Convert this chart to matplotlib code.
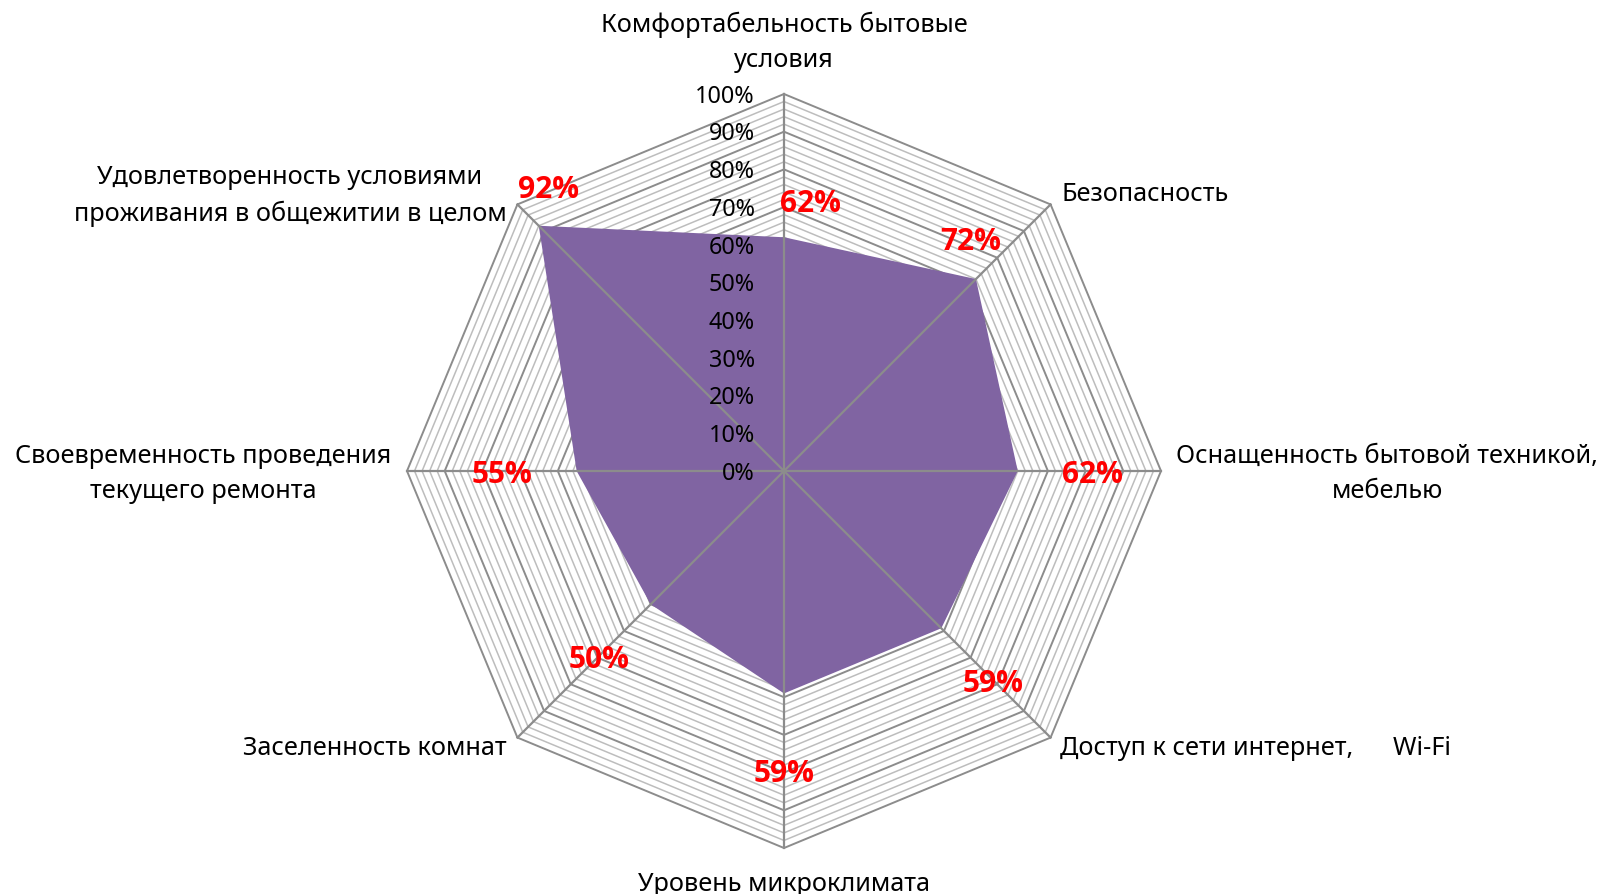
import numpy as np
import matplotlib
matplotlib.use("Agg")
import matplotlib.pyplot as plt

plt.rcParams['font.family'] = ['Noto Sans', 'DejaVu Sans']

# categories clockwise from the top
categories = ["Комфортабельность бытовые\nусловия",
              "Безопасность",
              "Оснащенность бытовой техникой,\nмебелью",
              "Доступ к сети интернет,      Wi-Fi",
              "Уровень микроклимата",
              "Заселенность комнат",
              "Своевременность проведения\nтекущего ремонта",
              "Удовлетворенность условиями\nпроживания в общежитии в целом"]
values = [62, 72, 62, 59, 59, 50, 55, 92]
tick_values = [0, 10, 20, 30, 40, 50, 60, 70, 80, 90, 100]

# label placement (offset points) - style only
val_offsets = [(19, 24), (-4, 27), (54, -3), (37, -40), (0, -58), (-37, -40), (-54, -3), (7, 26)]
cat_offsets = [(0, 37), (8, 7), (11, -2), (7, -8), (0, -26), (-8, -8), (-11, -2), (-8, 6)]
cat_ha = ['center', 'left', 'left', 'left', 'center', 'right', 'right', 'right']

W, H = 1605, 894
cx, cy, R = 784, 471, 377

fig = plt.figure(figsize=(W / 100, H / 100), dpi=100)
ax = fig.add_axes([0, 0, 1, 1])
ax.set_xlim(-cx / R, (W - cx) / R)
ax.set_ylim(-(H - cy) / R, cy / R)
ax.axis('off')

n = len(categories)
ang = np.pi / 2 - 2 * np.pi * np.arange(n) / n
ang_c = np.append(ang, ang[0])

# polygon rings every 2 %
for lvl in range(0, 101, 2):
    r = lvl / 100
    if lvl % 10 == 0:
        ax.plot(r * np.cos(ang_c), r * np.sin(ang_c), color='#8c8c8c', lw=1.4, zorder=1)
    else:
        ax.plot(r * np.cos(ang_c), r * np.sin(ang_c), color='#bdbdbd', lw=1.1, zorder=1)

# filled area
v = np.array(values) / 100
v_c = np.append(v, v[0])
ax.fill(v_c * np.cos(ang_c), v_c * np.sin(ang_c), color='#8064A2', zorder=2, lw=0)

# spokes on top of fill
for a in ang:
    ax.plot([0, np.cos(a)], [0, np.sin(a)], color='#8c8c8c', lw=1.6, zorder=3)

# radial tick labels
for t in tick_values:
    ax.annotate(f"{t}%", xy=(0, t / 100), xytext=(-21, -2), textcoords='offset points',
                ha='right', va='center', fontsize=16.8, color='black', zorder=5)

# value labels
for a, val, off in zip(ang, values, val_offsets):
    r = val / 100
    ax.annotate(f"{val}%", xy=(r * np.cos(a), r * np.sin(a)), xytext=off,
                textcoords='offset points', ha='center', va='center',
                fontsize=21.5, fontweight='bold', family=['Open Sans', 'DejaVu Sans'],
                color='#ff0000', zorder=6)

# category labels
for a, lab, off, ha in zip(ang, categories, cat_offsets, cat_ha):
    ax.annotate(lab, xy=(np.cos(a), np.sin(a)), xytext=off, textcoords='offset points',
                ha=ha, va='center', multialignment='center', fontsize=18.2,
                color='black', linespacing=1.55, zorder=6)

fig.savefig('out.png', dpi=100)
